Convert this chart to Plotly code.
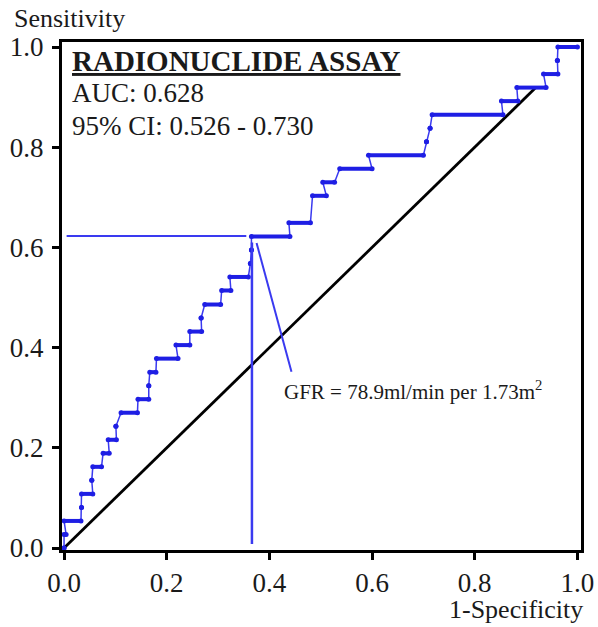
import plotly.graph_objects as go

# ROC steps: each step is a horizontal run at one sensitivity
step_fpr_start = [0.000, 0.000, 0.000, 0.034, 0.034, 0.054, 0.056, 0.076, 0.086, 0.101,
                  0.111, 0.144, 0.165, 0.167, 0.180, 0.218, 0.245, 0.267, 0.274, 0.307,
                  0.323, 0.363, 0.365, 0.365, 0.438, 0.484, 0.504, 0.537, 0.593, 0.706,
                  0.713, 0.717, 0.852, 0.882, 0.934, 0.961, 0.962]
step_fpr_end = [0.000, 0.004, 0.033, 0.034, 0.056, 0.054, 0.073, 0.088, 0.102, 0.101,
                0.143, 0.165, 0.165, 0.179, 0.222, 0.245, 0.268, 0.267, 0.305, 0.325,
                0.359, 0.363, 0.365, 0.440, 0.480, 0.511, 0.527, 0.600, 0.700, 0.706,
                0.713, 0.855, 0.884, 0.939, 0.962, 0.961, 1.000]
step_tpr = [0.000, 0.027, 0.054, 0.081, 0.108, 0.135, 0.162, 0.189, 0.216, 0.243,
            0.270, 0.297, 0.324, 0.351, 0.378, 0.405, 0.432, 0.459, 0.486, 0.514,
            0.541, 0.568, 0.595, 0.622, 0.649, 0.703, 0.730, 0.757, 0.784, 0.811,
            0.838, 0.865, 0.892, 0.919, 0.946, 0.973, 1.000]

# reference (chance) line
diag_x = [0.0, 0.92]
diag_y = [0.0, 0.92]

# cut-off guide lines
cut_fpr = 0.366
cut_tpr = 0.623
guide_h_x = [0.005, 0.355]
guide_v_y = [0.008, 0.61]
pointer_x = [0.375, 0.443]
pointer_y = [0.609, 0.352]

x_ticks = [0.0, 0.2, 0.4, 0.6, 0.8, 1.0]
y_ticks = [0.0, 0.2, 0.4, 0.6, 0.8, 1.0]
x_tick_labels = ["0.0", "0.2", "0.4", "0.6", "0.8", "1.0"]
y_tick_labels = ["0.0", "0.2", "0.4", "0.6", "0.8", "1.0"]

BLUE_DARK = "#1e1ee4"
BLUE_LINE = "#3a3af0"
FONT = "Liberation Serif"
TXT = "#1a1a1a"

path_x, path_y = [], []
seg_x, seg_y = [], []
for s, e, t in zip(step_fpr_start, step_fpr_end, step_tpr):
    path_x += [s, e]
    path_y += [t, t]
    seg_x += [s, e, None]
    seg_y += [t, t, None]

fig = go.Figure()

fig.add_trace(go.Scatter(x=diag_x, y=diag_y, mode="lines",
                         line=dict(color="black", width=2.8), hoverinfo="skip"))

# thin connectors
fig.add_trace(go.Scatter(x=path_x, y=path_y, mode="lines",
                         line=dict(color=BLUE_LINE, width=1.5), hoverinfo="skip"))
# thick horizontal runs (dense dots)
fig.add_trace(go.Scatter(x=seg_x, y=seg_y, mode="lines+markers",
                         line=dict(color=BLUE_DARK, width=4),
                         marker=dict(color=BLUE_DARK, size=5), hoverinfo="skip"))

# cut-off guides
fig.add_trace(go.Scatter(x=guide_h_x, y=[cut_tpr, cut_tpr], mode="lines",
                         line=dict(color=BLUE_LINE, width=2), hoverinfo="skip"))
fig.add_trace(go.Scatter(x=[cut_fpr, cut_fpr], y=guide_v_y, mode="lines",
                         line=dict(color=BLUE_LINE, width=2.5), hoverinfo="skip"))
fig.add_trace(go.Scatter(x=pointer_x, y=pointer_y, mode="lines",
                         line=dict(color=BLUE_LINE, width=2), hoverinfo="skip"))

# plot area in pixels: left 62, right 581, top 42, bottom 550
PL, PR, PT, PB = 62, 581, 42, 550

def px_x(p):
    return (p - PL) / (PR - PL)

def px_y(p):
    return (PB - p) / (PB - PT)

annotations = [
    dict(x=0.012, y=0.973, xref="x", yref="y", xanchor="left", yanchor="middle",
         text="<b><u>RADIONUCLIDE ASSAY</u></b>", showarrow=False,
         font=dict(family=FONT, size=29, color=TXT)),
    dict(x=0.012, y=0.909, xref="x", yref="y", xanchor="left", yanchor="middle",
         text="AUC: 0.628", showarrow=False,
         font=dict(family=FONT, size=27, color=TXT)),
    dict(x=0.012, y=0.842, xref="x", yref="y", xanchor="left", yanchor="middle",
         text="95% CI: 0.526 - 0.730", showarrow=False,
         font=dict(family=FONT, size=27, color=TXT)),
    dict(x=0.424, y=0.315, xref="x", yref="y", xanchor="left", yanchor="middle",
         text="GFR = 78.9ml/min per 1.73m<sup>2</sup>", showarrow=False,
         font=dict(family=FONT, size=21, color=TXT)),
    dict(x=px_x(12), y=px_y(18), xref="paper", yref="paper", xanchor="left",
         yanchor="middle", text="Sensitivity", showarrow=False,
         font=dict(family=FONT, size=26, color=TXT)),
    dict(x=px_x(585), y=px_y(609), xref="paper", yref="paper", xanchor="right",
         yanchor="middle", text="1-Specificity", showarrow=False,
         font=dict(family=FONT, size=26, color=TXT)),
]

fig.update_layout(
    width=598, height=627,
    margin=dict(l=PL, r=598 - PR, t=PT, b=627 - PB, pad=0, autoexpand=False),
    paper_bgcolor="white", plot_bgcolor="white",
    showlegend=False,
    annotations=annotations,
    font=dict(family=FONT, color=TXT),
)
fig.update_xaxes(range=[-0.004, 1.007], tickvals=x_ticks, ticktext=x_tick_labels,
                 showgrid=False, zeroline=False, showline=True, linecolor="black",
                 linewidth=3, mirror=True, ticks="outside", ticklen=7, tickwidth=3,
                 automargin=False,
                 tickcolor="black", tickfont=dict(family=FONT, size=27, color=TXT))
fig.update_yaxes(range=[-0.004, 1.01], tickvals=y_ticks, ticktext=y_tick_labels,
                 showgrid=False, zeroline=False, showline=True, linecolor="black",
                 linewidth=3, mirror=True, ticks="outside", ticklen=7, tickwidth=3,
                 ticklabelstandoff=3, automargin=False,
                 tickcolor="black", tickfont=dict(family=FONT, size=27, color=TXT))

fig.write_html("out.html")
